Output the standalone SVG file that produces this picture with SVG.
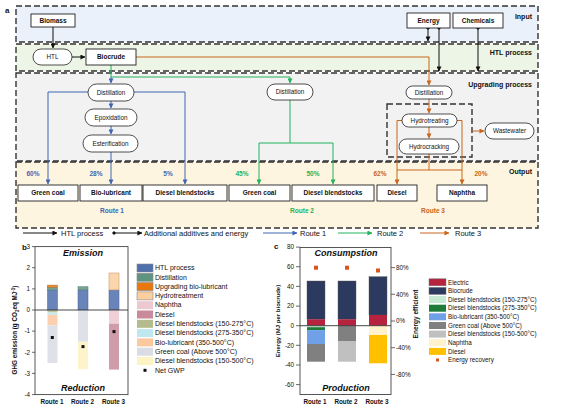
<svg xmlns="http://www.w3.org/2000/svg" width="567" height="413" viewBox="0 0 567 413">
<style>
text{font-family:"Liberation Sans",Arial,sans-serif;fill:#111}
.reg{stroke:#333;stroke-width:1.4;stroke-dasharray:6,3}
.box{fill:#fff;stroke:#222;stroke-width:0.9}
.pill{fill:#fff;stroke:#222;stroke-width:0.8}
.bt{font-size:6.5px;font-weight:bold;text-anchor:middle}
.pt{font-size:6.3px;text-anchor:middle}
.rl{font-size:7px;font-weight:bold;text-anchor:end}
.blue{stroke:#3f66b3;fill:none;stroke-width:1}
.green{stroke:#22b35e;fill:none;stroke-width:1}
.orange{stroke:#c8661c;fill:none;stroke-width:1}
.black{stroke:#111;fill:none;stroke-width:1}
.pb{font-size:6.5px;font-weight:bold;fill:#3f66b3;text-anchor:middle}
.pg{font-size:6.5px;font-weight:bold;fill:#22b35e;text-anchor:middle}
.po{font-size:6.5px;font-weight:bold;fill:#c8661c;text-anchor:middle}
.lg{font-size:7.5px}
.tk{font-size:6.3px;text-anchor:end}
.tkr{font-size:6.3px}
.xl{font-size:6.3px;font-weight:bold;text-anchor:middle}
.ax{stroke:#444;stroke-width:0.9;fill:none}
.lb{font-size:7px}
.lc{font-size:6.3px}
.ttl{font-size:9px;font-weight:bold;font-style:italic;text-anchor:middle}
</style>
<defs>
<marker id="ab" viewBox="0 0 6 6" refX="5.5" refY="3" markerWidth="5" markerHeight="5" orient="auto" markerUnits="userSpaceOnUse"><path d="M0,0L6,3L0,6z" fill="#3f66b3"/></marker>
<marker id="ag" viewBox="0 0 6 6" refX="5.5" refY="3" markerWidth="5" markerHeight="5" orient="auto" markerUnits="userSpaceOnUse"><path d="M0,0L6,3L0,6z" fill="#22b35e"/></marker>
<marker id="ao" viewBox="0 0 6 6" refX="5.5" refY="3" markerWidth="5" markerHeight="5" orient="auto" markerUnits="userSpaceOnUse"><path d="M0,0L6,3L0,6z" fill="#c8661c"/></marker>
<marker id="ak" viewBox="0 0 6 6" refX="5.5" refY="3" markerWidth="5" markerHeight="5" orient="auto" markerUnits="userSpaceOnUse"><path d="M0,0L6,3L0,6z" fill="#111"/></marker>
<marker id="dk" viewBox="0 0 6 6" refX="3" refY="3" markerWidth="4" markerHeight="4" orient="auto" markerUnits="userSpaceOnUse"><path d="M3,0L6,3L3,6L0,3z" fill="#111"/></marker>
</defs>
<rect width="567" height="413" fill="#fff"/>

<!-- Panel a regions -->
<g id="regions">
<rect class="reg" x="16" y="6" width="522" height="36" fill="#eaf1fa"/>
<rect class="reg" x="16" y="44" width="522" height="27" fill="#edf5e6"/>
<rect class="reg" x="16" y="73" width="522" height="88" fill="#f2f2f2"/>
<rect class="reg" x="16" y="162" width="522" height="66" fill="#fdf5e0"/>
<rect class="reg" x="387" y="104" width="85" height="53" fill="none" stroke-width="1.1"/>
</g>
<text x="5" y="13" font-size="8" font-weight="bold">a</text>
<text class="rl" x="532" y="19">Input</text>
<text class="rl" x="532" y="55">HTL process</text>
<text class="rl" x="532" y="87">Upgrading process</text>
<text class="rl" x="532" y="174">Output</text>

<g id="connectors">
<path class="black" d="M53,27V48" marker-end="url(#ak)"/>
<path class="black" d="M72,57H85" marker-end="url(#ak)"/>
<path class="black" d="M428,28V41" marker-start="url(#dk)" marker-end="url(#ak)"/>
<path class="black" d="M439,28V71" marker-start="url(#dk)" marker-end="url(#ak)"/>
<path class="black" d="M478,28V71" marker-start="url(#dk)" marker-end="url(#ak)"/>
<path class="orange" d="M136,57H429V85" marker-end="url(#ao)"/>
<path class="green" d="M111,65V77H290V83" marker-end="url(#ag)"/>
<path class="blue" d="M111,77V83" marker-end="url(#ab)"/>
<path class="blue" d="M88,92H48V184" marker-end="url(#ab)"/>
<path class="blue" d="M134,92H185V184" marker-end="url(#ab)"/>
<path class="blue" d="M111,101V108" marker-end="url(#ab)"/>
<path class="blue" d="M111,126V134" marker-end="url(#ab)"/>
<path class="blue" d="M111,152V184" marker-end="url(#ab)"/>
<path class="green" d="M290,100V143" />
<path class="green" d="M259,143H333" />
<path class="green" d="M259,143V184" marker-end="url(#ag)"/>
<path class="green" d="M333,143V184" marker-end="url(#ag)"/>
<path class="orange" d="M429,99V113" marker-end="url(#ao)"/>
<path class="orange" d="M429,127V138" marker-end="url(#ao)"/>
<path class="orange" d="M402,120.5H397V184" marker-end="url(#ao)"/>
<path class="orange" d="M457,120.5H462V184" marker-end="url(#ao)"/>
<path class="orange" d="M429,154V170M397,170H462" />
<path class="orange" d="M472,131H484" marker-end="url(#ao)"/>
</g>

<g id="n-biomass"><rect class="box" x="31" y="14" width="44" height="13"/><text class="bt" x="53" y="23">Biomass</text></g>
<g id="n-energy"><rect class="box" x="407" y="13" width="43" height="15"/><text class="bt" x="428.5" y="23">Energy</text></g>
<g id="n-chemicals"><rect class="box" x="453" y="13" width="50" height="15"/><text class="bt" x="478" y="23">Chemicals</text></g>
<g id="n-htl"><rect class="pill" x="33" y="49" width="39" height="16" rx="8"/><text class="pt" x="52.5" y="59.3">HTL</text></g>
<g id="n-biocrude"><rect class="box" x="86" y="49" width="50" height="16"/><text class="bt" x="111" y="59.3">Biocrude</text></g>
<g id="n-dist1"><rect class="pill" x="88" y="84" width="46" height="17" rx="8.5"/><text class="pt" x="111" y="94.7">Distillation</text></g>
<g id="n-dist2"><rect class="pill" x="267" y="84" width="46" height="16" rx="8"/><text class="pt" x="290" y="94.3">Distillation</text></g>
<g id="n-dist3"><rect class="pill" x="406" y="86" width="46" height="13" rx="6.5"/><text class="pt" x="429" y="94.8">Distillation</text></g>
<g id="n-epox"><rect class="pill" x="85" y="109" width="52" height="17" rx="8.5"/><text class="pt" x="111" y="119.7">Epoxidation</text></g>
<g id="n-ester"><rect class="pill" x="83" y="135" width="55" height="17" rx="8.5"/><text class="pt" x="110.5" y="145.7">Esterification</text></g>
<g id="n-hydrotreat"><rect class="pill" x="402" y="114" width="55" height="13" rx="6.5"/><text class="pt" x="429.5" y="122.8">Hydrotreating</text></g>
<g id="n-hydrocrack"><rect class="pill" x="399" y="139" width="60" height="15" rx="7.5"/><text class="pt" x="429" y="148.8">Hydrocracking</text></g>
<g id="n-wastewater"><rect class="pill" x="485" y="123" width="49" height="16" rx="8"/><text class="pt" x="509.5" y="133.3">Wastewater</text></g>
<g id="n-gc1"><rect class="box" x="18" y="185" width="60" height="16"/><text class="bt" x="48" y="195.3">Green coal</text></g>
<g id="n-bl1"><rect class="box" x="80" y="185" width="62" height="16"/><text class="bt" x="111" y="195.3">Bio-lubricant</text></g>
<g id="n-db1"><rect class="box" x="143" y="185" width="84" height="16"/><text class="bt" x="185" y="195.3">Diesel blendstocks</text></g>
<g id="n-gc2"><rect class="box" x="229" y="185" width="61" height="16"/><text class="bt" x="259.5" y="195.3">Green coal</text></g>
<g id="n-db2"><rect class="box" x="292" y="185" width="82" height="16"/><text class="bt" x="333" y="195.3">Diesel blendstocks</text></g>
<g id="n-diesel"><rect class="box" x="377" y="185" width="40" height="16"/><text class="bt" x="397" y="195.3">Diesel</text></g>
<g id="n-naphtha"><rect class="box" x="437" y="185" width="50" height="16"/><text class="bt" x="462" y="195.3">Naphtha</text></g>

<text class="pb" x="33" y="176">60%</text>
<text class="pb" x="96" y="176">28%</text>
<text class="pb" x="168" y="176">5%</text>
<text class="pg" x="242" y="176">45%</text>
<text class="pg" x="313" y="176">50%</text>
<text class="po" x="380" y="176">62%</text>
<text class="po" x="481" y="176">20%</text>
<text class="pb" x="112" y="213">Route 1</text>
<text class="pg" x="302" y="213">Route 2</text>
<text class="po" x="433" y="213">Route 3</text>

<!-- legend row -->
<g id="legend-a">
<path class="black" d="M23,233H57" marker-end="url(#ak)"/>
<text class="lg" x="61" y="235.7">HTL process</text>
<path class="black" d="M114,233H142" marker-start="url(#dk)" marker-end="url(#ak)"/>
<text class="lg" x="144" y="235.7">Additional additives and energy</text>
<path class="blue" d="M263,233H297" marker-end="url(#ab)"/>
<text class="lg" x="300" y="235.7">Route 1</text>
<path class="green" d="M338,233H372" marker-end="url(#ag)"/>
<text class="lg" x="377" y="235.7">Route 2</text>
<path class="orange" d="M420,233H449" marker-end="url(#ao)"/>
<text class="lg" x="455" y="235.7">Route 3</text>
</g>

<!-- Panel b -->
<text x="22" y="250" font-size="8" font-weight="bold">b</text>
<g id="chart-b">
<rect class="ax" x="35" y="246.6" width="93" height="148"/>
<g stroke="#444" stroke-width="0.8">
<path d="M32,246.6H35M32,267.7H35M32,288.9H35M32,310H35M32,331.1H35M32,352.3H35M32,373.4H35M32,394.6H35"/>
</g>
<text class="tk" x="30" y="248.8">3</text>
<text class="tk" x="30" y="269.9">2</text>
<text class="tk" x="30" y="291.1">1</text>
<text class="tk" x="30" y="312.2">0</text>
<text class="tk" x="30" y="333.3">-1</text>
<text class="tk" x="30" y="354.5">-2</text>
<text class="tk" x="30" y="375.6">-3</text>
<text class="tk" x="30" y="396.8">-4</text>
<text transform="translate(17,330) rotate(-90)" font-size="6.3" font-weight="bold" text-anchor="middle">GHG emission (g CO<tspan font-size="4.5" dy="1.5">2</tspan><tspan dy="-1.5">eq MJ</tspan><tspan font-size="4.5" dy="-2">-1</tspan><tspan dy="2">)</tspan></text>
<g opacity="0.85">
<!-- route 1 -->
<rect x="47.5" y="289.9" width="10" height="20.1" fill="#4f6fad" stroke="#2f4a7e" stroke-width="0.5"/>
<rect x="47.5" y="287.2" width="10" height="2.7" fill="#5f9580" stroke="#3d6b58" stroke-width="0.5"/>
<rect x="47.5" y="285.1" width="10" height="2.1" fill="#e8780c" stroke="#a85400" stroke-width="0.5"/>
<rect x="47.5" y="310" width="10" height="2.5" fill="#b5bb8e"/>
<rect x="47.5" y="312.5" width="10" height="2.4" fill="#bfe8ee"/>
<rect x="47.5" y="314.9" width="10" height="10.5" fill="#fcc8a0"/>
<rect x="47.5" y="325.4" width="10" height="37.5" fill="#d9dce4"/>
<!-- route 2 -->
<rect x="78" y="289.9" width="10" height="20.1" fill="#4f6fad" stroke="#2f4a7e" stroke-width="0.5"/>
<rect x="78" y="286.7" width="10" height="3.2" fill="#5f9580" stroke="#3d6b58" stroke-width="0.5"/>
<rect x="78" y="310" width="10" height="31.7" fill="#d9dce4"/>
<rect x="78" y="341.7" width="10" height="27.5" fill="#fdf3c4"/>
<!-- route 3 -->
<rect x="109" y="289.9" width="10" height="20.1" fill="#4f6fad" stroke="#2f4a7e" stroke-width="0.5"/>
<rect x="109" y="273" width="10" height="16.9" fill="#fbcf9f" stroke="#c8895a" stroke-width="0.6"/>
<rect x="109" y="310" width="10" height="13.7" fill="#ecc8d0"/>
<rect x="109" y="323.7" width="10" height="45.9" fill="#c98b9c"/>
</g>
<path d="M35,310H128" stroke="#333" stroke-width="0.9"/>
<rect x="50.8" y="336" width="3" height="3" fill="#111"/>
<rect x="81.5" y="345.1" width="3" height="3" fill="#111"/>
<rect x="112.5" y="330.1" width="3" height="3" fill="#111"/>
<text class="ttl" x="83" y="256">Emission</text>
<text class="ttl" x="83" y="391">Reduction</text>
<text class="xl" x="52" y="404">Route 1</text>
<text class="xl" x="82.5" y="404">Route 2</text>
<text class="xl" x="113.5" y="404">Route 3</text>
</g>
<g id="legend-b">
<rect x="137" y="264" width="16" height="8" fill="#4f6fad" stroke="#8a8a8a" stroke-width="0.6"/><text class="lb" x="155" y="270.2">HTL process</text>
<rect x="137" y="273.3" width="16" height="8" fill="#5f9580" stroke="#8a8a8a" stroke-width="0.6"/><text class="lb" x="155" y="279.5">Distillation</text>
<rect x="137" y="282.6" width="16" height="8" fill="#e8780c" stroke="#8a8a8a" stroke-width="0.6"/><text class="lb" x="155" y="288.8">Upgrading bio-lubricant</text>
<rect x="137" y="291.9" width="16" height="8" fill="#fbcf9f" stroke="#8a8a8a" stroke-width="0.6"/><text class="lb" x="155" y="298.1">Hydrotreatment</text>
<rect x="137" y="301.2" width="16" height="8" fill="#ecc8d0"/><text class="lb" x="155" y="307.4">Naphtha</text>
<rect x="137" y="310.5" width="16" height="8" fill="#c98b9c"/><text class="lb" x="155" y="316.7">Diesel</text>
<rect x="137" y="319.8" width="16" height="8" fill="#b5bb8e"/><text class="lb" x="155" y="326">Diesel blendstocks (150-275°C)</text>
<rect x="137" y="329.1" width="16" height="8" fill="#bfe8ee"/><text class="lb" x="155" y="335.3">Diesel blendstocks (275-350°C)</text>
<rect x="137" y="338.4" width="16" height="8" fill="#fcc8a0"/><text class="lb" x="155" y="344.6">Bio-lubricant (350-500°C)</text>
<rect x="137" y="347.7" width="16" height="8" fill="#d9dce4"/><text class="lb" x="155" y="353.9">Green coal (Above 500°C)</text>
<rect x="137" y="357" width="16" height="8" fill="#fdf3c4"/><text class="lb" x="155" y="363.2">Diesel blendstocks (150-500°C)</text>
<rect x="143.5" y="368.8" width="3" height="3" fill="#111"/><text class="lb" x="155" y="372.5">Net GWP</text>
</g>

<!-- Panel c -->
<text x="274" y="249" font-size="8" font-weight="bold">c</text>
<g id="chart-c">
<rect class="ax" x="300" y="247.5" width="91" height="147"/>
<g stroke="#444" stroke-width="0.8">
<path d="M296,247.1H300M296,266.7H300M296,286.4H300M296,306.1H300M296,325.7H300M296,345.3H300M296,365H300M296,384.6H300"/>
<path d="M391,267.6H395M391,294.3H395M391,321H395M391,347.7H395M391,374.4H395"/>
</g>
<text class="tk" x="294" y="249.3">80</text>
<text class="tk" x="294" y="268.9">60</text>
<text class="tk" x="294" y="288.6">40</text>
<text class="tk" x="294" y="308.3">20</text>
<text class="tk" x="294" y="327.9">0</text>
<text class="tk" x="294" y="347.5">-20</text>
<text class="tk" x="294" y="367.2">-40</text>
<text class="tk" x="294" y="386.8">-60</text>
<text class="tkr" x="396" y="269.8">80%</text>
<text class="tkr" x="396" y="296.5">40%</text>
<text class="tkr" x="396" y="323.2">0%</text>
<text class="tkr" x="396" y="349.9">-40%</text>
<text class="tkr" x="396" y="376.6">-80%</text>
<text transform="translate(280,321) rotate(-90)" font-size="6" font-weight="bold" text-anchor="middle">Energy (MJ per biocrude)</text>
<text transform="translate(418,314) rotate(-90)" font-size="6.5" font-weight="bold" text-anchor="middle">Energy efficient</text>
<!-- route 1 -->
<rect x="307" y="281" width="18" height="38.3" fill="#2b3a5e" stroke="#555" stroke-width="0.4"/>
<rect x="307" y="319.3" width="18" height="6.4" fill="#b5233f"/>
<rect x="307" y="325.7" width="18" height="1.5" fill="#c6e9d4"/>
<rect x="307" y="327.2" width="18" height="2.9" fill="#1e7b3a"/>
<rect x="307" y="330.1" width="18" height="13.9" fill="#6fa0e8"/>
<rect x="307" y="344" width="18" height="17.7" fill="#808080"/>
<!-- route 2 -->
<rect x="338" y="281" width="18" height="38.3" fill="#2b3a5e" stroke="#555" stroke-width="0.4"/>
<rect x="338" y="319.3" width="18" height="6.4" fill="#b5233f"/>
<rect x="338" y="325.7" width="18" height="15.3" fill="#808080"/>
<rect x="338" y="341" width="18" height="20.7" fill="#c0c0c0"/>
<!-- route 3 -->
<rect x="369" y="276.7" width="18" height="38.3" fill="#2b3a5e" stroke="#555" stroke-width="0.4"/>
<rect x="369" y="315" width="18" height="10.7" fill="#b5233f"/>
<rect x="369" y="325.7" width="18" height="9.3" fill="#fff2cc"/>
<rect x="369" y="335" width="18" height="28.3" fill="#ffc000"/>
<path d="M300,325.7H391" stroke="#333" stroke-width="0.9"/>
<rect x="314" y="265.7" width="4" height="4" fill="#d9541e"/>
<rect x="345" y="265.7" width="4" height="4" fill="#d9541e"/>
<rect x="376" y="268.5" width="4" height="4" fill="#d9541e"/>
<text class="ttl" x="346" y="256">Consumpstion</text>
<text class="ttl" x="346" y="391">Production</text>
<text class="xl" x="315" y="404">Route 1</text>
<text class="xl" x="346" y="404">Route 2</text>
<text class="xl" x="377" y="404">Route 3</text>
</g>
<g id="legend-c">
<rect x="429" y="278.8" width="17" height="7" fill="#b5233f" stroke="#777" stroke-width="0.5"/><text class="lc" x="448" y="284.5">Electric</text>
<rect x="429" y="287.4" width="17" height="7" fill="#2b3a5e" stroke="#777" stroke-width="0.5"/><text class="lc" x="448" y="293.1">Biocrude</text>
<rect x="429" y="296" width="17" height="7" fill="#c6e9d4"/><text class="lc" x="448" y="301.7">Diesel blendstocks (150-275°C)</text>
<rect x="429" y="304.7" width="17" height="7" fill="#1e7b3a"/><text class="lc" x="448" y="310.4">Diesel blendstocks (275-350°C)</text>
<rect x="429" y="313.3" width="17" height="7" fill="#6fa0e8"/><text class="lc" x="448" y="319">Bio-lubricant (350-500°C)</text>
<rect x="429" y="322" width="17" height="7" fill="#808080"/><text class="lc" x="448" y="327.7">Green coal (Above 500°C)</text>
<rect x="429" y="330.6" width="17" height="7" fill="#c0c0c0"/><text class="lc" x="448" y="336.3">Diesel blendstocks (150-500°C)</text>
<rect x="429" y="339.2" width="17" height="7" fill="#fff2cc"/><text class="lc" x="448" y="344.9">Naphtha</text>
<rect x="429" y="347.9" width="17" height="7" fill="#ffc000"/><text class="lc" x="448" y="353.6">Diesel</text>
<rect x="436" y="358.5" width="3" height="3" fill="#d9541e"/><text class="lc" x="448" y="362.3">Energy recovery</text>
</g>
</svg>
